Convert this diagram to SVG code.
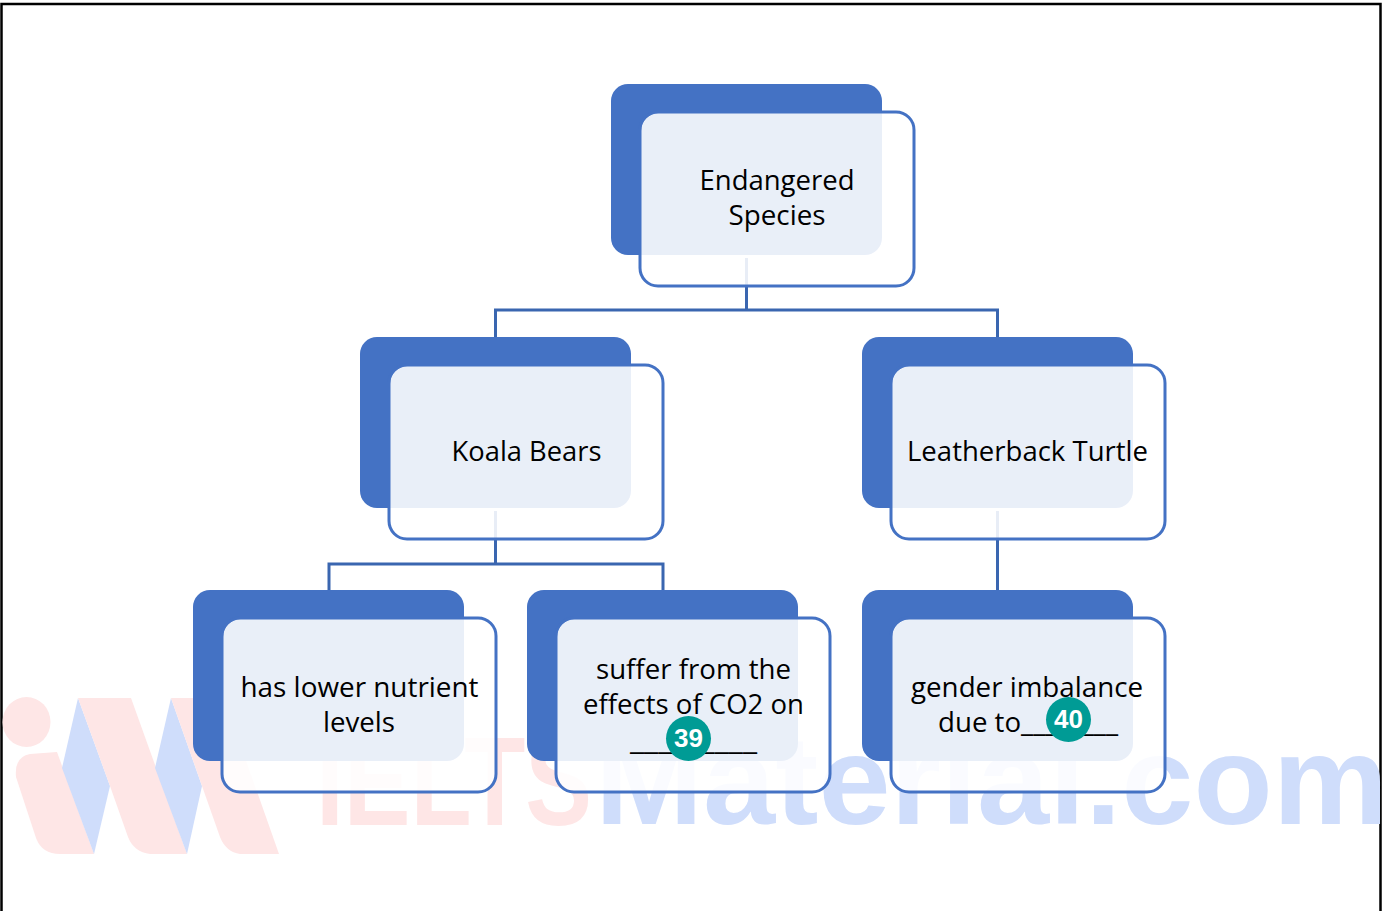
<svg xmlns="http://www.w3.org/2000/svg" width="1382" height="911" viewBox="0 0 1382 911">
<style>
.back{fill:#4472C4}
.card{fill:#fff;fill-opacity:.885;stroke:none}
.tint{fill:#E9EDF7;stroke:none}
.edge{fill:none;stroke:#4472C4;stroke-width:3}
.c{fill:none;stroke:#3A66B0;stroke-width:3}
text{font-family:"Open Sans","Liberation Sans",sans-serif;font-size:27px;fill:#000;text-anchor:middle}
.wm{font-family:"Liberation Sans",Arial,sans-serif;font-weight:700;font-size:126px;text-anchor:start}
.b{fill:#009B95}
.bt{font-family:"Liberation Sans",Arial,sans-serif;font-weight:700;font-size:26px;fill:#fff}
.wr{fill:#FEE6E6}
.wb{fill:#CFDDFB}
</style>
<rect width="1382" height="911" fill="#fff"/>
<rect x="1.500" y="4" width="1379" height="920" fill="none" stroke="#000" stroke-width="2.500"/>
<g id="watermark">
<ellipse class="wr" cx="26.500" cy="722" rx="24" ry="25"/>
<path class="wr" d="M16 777Q14 757 30 754L57 752L94 854H60Q42 854 36 838Z"/>
<path class="wb" d="M78 698L62 768L94 854L110 786Z"/>
<path class="wr" d="M78 698H131L187 854H150Q134 852 128 837L110 786Z"/>
<path class="wb" d="M171 698L155 768L187 854L202 786Z"/>
<path class="wr" d="M171 698H224L279 854H240Q226 852 220 837L202 786Z"/>
<text class="wm wr" x="316" y="825" textLength="276" lengthAdjust="spacingAndGlyphs">IELTS</text>
<text class="wm wb" x="595" y="824" textLength="793" lengthAdjust="spacingAndGlyphs">Material.com</text>
</g>
<g id="connectors">
<path class="c" d="M746.500 258V310M495.500 337V310H997.500V337"/>
<path class="c" d="M495.500 511V564M329 590V564H663V590"/>
<path class="c" d="M997.500 511V590"/>
</g>
<g id="endangered">
<rect class="back" x="611" y="84" width="271" height="171" rx="17"/>
<rect class="card" x="641" y="113" width="272" height="172" rx="18"/>
<rect class="edge" x="640" y="112" width="274" height="174" rx="18"/>
<text x="777" y="190" textLength="155" lengthAdjust="spacingAndGlyphs">Endangered</text>
<text x="777" y="225" textLength="97" lengthAdjust="spacingAndGlyphs">Species</text>
</g>
<g id="koala">
<rect class="back" x="360" y="337" width="271" height="171" rx="17"/>
<rect class="card" x="390" y="366" width="272" height="172" rx="18"/>
<rect class="edge" x="389" y="365" width="274" height="174" rx="18"/>
<text x="526.500" y="461" textLength="150" lengthAdjust="spacingAndGlyphs">Koala Bears</text>
</g>
<g id="turtle">
<rect class="back" x="862" y="337" width="271" height="171" rx="17"/>
<rect class="card" x="892" y="366" width="272" height="172" rx="18"/>
<rect class="edge" x="891" y="365" width="274" height="174" rx="18"/>
<text x="1027.500" y="461" textLength="241" lengthAdjust="spacingAndGlyphs">Leatherback Turtle</text>
</g>
<g id="nutrient">
<rect class="back" x="193" y="590" width="271" height="171" rx="17"/>
<rect class="card" x="223" y="619" width="272" height="172" rx="18"/>
<rect class="edge" x="222" y="618" width="274" height="174" rx="18"/>
<text x="359.500" y="697" textLength="238" lengthAdjust="spacingAndGlyphs">has lower nutrient</text>
<text x="359" y="732" textLength="72" lengthAdjust="spacingAndGlyphs">levels</text>
</g>
<g id="co2">
<rect class="back" x="527" y="590" width="271" height="171" rx="17"/>
<rect class="card" x="557" y="619" width="272" height="172" rx="18"/>
<rect class="edge" x="556" y="618" width="274" height="174" rx="18"/>
<text x="693.500" y="679" textLength="195" lengthAdjust="spacingAndGlyphs">suffer from the</text>
<text x="693.500" y="714" textLength="221" lengthAdjust="spacingAndGlyphs">effects of CO2 on</text>
<text x="693.500" y="750" textLength="127" lengthAdjust="spacingAndGlyphs">_________</text>
</g>
<g id="gender">
<rect class="back" x="862" y="590" width="271" height="171" rx="17"/>
<rect class="card" x="892" y="619" width="272" height="172" rx="18"/>
<rect class="edge" x="891" y="618" width="274" height="174" rx="18"/>
<text x="1027" y="697" textLength="232" lengthAdjust="spacingAndGlyphs">gender imbalance</text>
<text x="1028" y="732" textLength="180" lengthAdjust="spacingAndGlyphs">due to________</text>
</g>
<g id="badge39">
<circle class="b" cx="688.500" cy="738.500" r="22.500"/>
<text class="bt" x="688.500" y="747">39</text>
</g>
<g id="badge40">
<circle class="b" cx="1068.500" cy="719.500" r="22.500"/>
<text class="bt" x="1068.500" y="728">40</text>
</g>
</svg>
